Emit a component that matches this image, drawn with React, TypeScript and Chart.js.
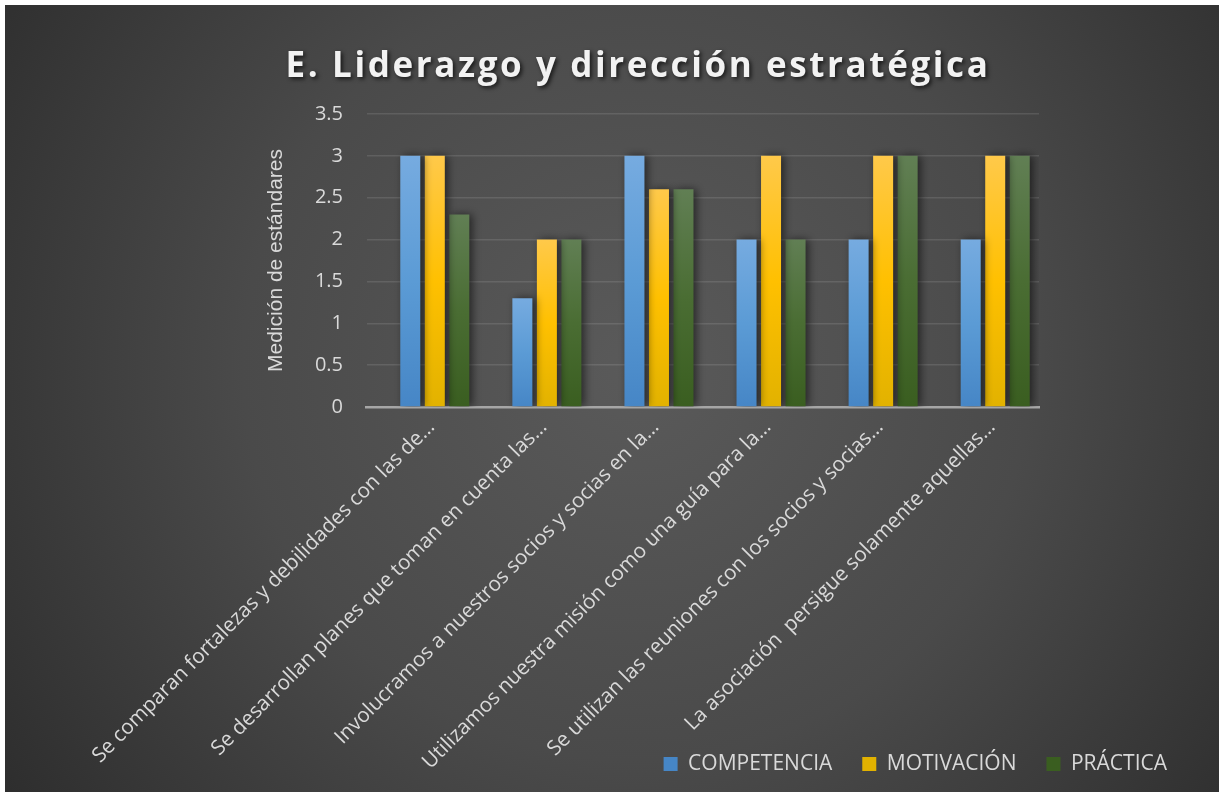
import React, { useEffect, useRef } from 'react';
import { Chart, registerables } from 'chart.js';

Chart.register(...registerables);

const TITLE = 'E. Liderazgo y dirección estratégica';
const Y_TITLE = 'Medición de estándares';

const CATEGORIES = [
  'Se comparan fortalezas y debilidades con las de…',
  'Se desarrollan planes que toman en cuenta las…',
  'Involucramos a nuestros socios y socias en la…',
  'Utilizamos nuestra misión como una guía para la…',
  'Se utilizan las reuniones con los socios y socias…',
  'La asociación  persigue solamente aquellas…',
];

const SERIES_NAMES = ['COMPETENCIA', 'MOTIVACIÓN', 'PRÁCTICA'];
// empty leading series (no values) present in the source chart's grouping
const EMPTY_SERIES: (number | null)[] = [null, null, null, null, null, null];
const COMPETENCIA = [3, 1.3, 3, 2, 2, 2];
const MOTIVACION = [3, 2, 2.6, 3, 3, 3];
const PRACTICA = [2.3, 2, 2.6, 2, 3, 3];

const Y_MIN = 0;
const Y_MAX = 3.5;
const Y_STEP = 0.5;

const BLUE = ['#76abe0', '#5b9bd5', '#4686c6'];
const GOLD = ['#ffc94a', '#ffc000', '#e2b200'];
const GREEN = ['#617f54', '#4a6d33', '#3a5e20'];

const W = 1214;
const H = 787;

function barFill(stops: string[]) {
  return (c: any) => {
    if (c.type !== 'data') return stops[1];
    const chart = c.chart;
    const y = chart.scales && chart.scales.y;
    if (!y || c.raw == null) return stops[1];
    const top = y.getPixelForValue(c.raw);
    const base = y.getPixelForValue(0);
    if (!isFinite(top) || !isFinite(base) || top === base) return stops[1];
    const g = chart.ctx.createLinearGradient(0, top, 0, base);
    g.addColorStop(0, stops[0]);
    g.addColorStop(0.5, stops[1]);
    g.addColorStop(1, stops[2]);
    return g;
  };
}

const decorPlugin = {
  id: 'decor',
  afterLayout(chart: any) {
    // let the rotated category labels run down past the legend row, as in the source
    const xs = chart.scales.x;
    if (xs) {
      xs.bottom = chart.height;
      xs.height = xs.bottom - xs.top;
    }
  },
  beforeDraw(chart: any) {
    const { ctx, width, height } = chart;
    ctx.save();
    const cx = width * 0.52;
    const cy = height * 0.46;
    const g = ctx.createRadialGradient(cx, cy, 0, cx, cy, width * 0.72);
    g.addColorStop(0, '#5a5a5a');
    g.addColorStop(0.45, '#4a4a4a');
    g.addColorStop(1, '#252525');
    ctx.fillStyle = g;
    ctx.fillRect(0, 0, width, height);
    ctx.restore();
  },
  beforeDatasetsDraw(chart: any) {
    const ctx = chart.ctx;
    ctx.save();
    ctx.shadowColor = 'rgba(0,0,0,0.55)';
    ctx.shadowBlur = 8;
    ctx.shadowOffsetX = 3;
    ctx.shadowOffsetY = 0;
  },
  afterDatasetsDraw(chart: any) {
    chart.ctx.restore();
  },
  afterDraw(chart: any) {
    const ctx = chart.ctx;
    ctx.save();
    ctx.font = "bold 35px 'Open Sans', sans-serif";
    (ctx as any).letterSpacing = '2.6px';
    ctx.textAlign = 'center';
    ctx.textBaseline = 'alphabetic';
    ctx.shadowColor = 'rgba(0,0,0,0.7)';
    ctx.shadowBlur = 4;
    ctx.shadowOffsetX = 2;
    ctx.shadowOffsetY = 2;
    ctx.fillStyle = '#f2f2f2';
    ctx.fillText(TITLE, 633, 72);
    ctx.restore();
  },
};

export default function App() {
  const ref = useRef<HTMLCanvasElement | null>(null);

  useEffect(() => {
    if (!ref.current) return;
    Chart.defaults.font.family = "'Open Sans', sans-serif";
    const chart = new Chart(ref.current, {
      type: 'bar',
      data: {
        labels: CATEGORIES,
        datasets: [
          { label: '', data: EMPTY_SERIES, backgroundColor: 'rgba(0,0,0,0)' },
          { label: SERIES_NAMES[0], data: COMPETENCIA, backgroundColor: barFill(BLUE) as any },
          { label: SERIES_NAMES[1], data: MOTIVACION, backgroundColor: barFill(GOLD) as any },
          { label: SERIES_NAMES[2], data: PRACTICA, backgroundColor: barFill(GREEN) as any },
        ],
      },
      options: {
        responsive: false,
        animation: false,
        events: [],
        datasets: {
          bar: { barPercentage: 0.816, categoryPercentage: 0.875 },
        },
        layout: { padding: { top: 109, left: 255, right: 22, bottom: 7.5 } },
        plugins: {
          title: { display: false },
          tooltip: { enabled: false },
          legend: {
            position: 'bottom',
            align: 'end',
            labels: {
              boxWidth: 14,
              boxHeight: 14,
              padding: 30,
              color: '#d9d9d9',
              font: { family: "'Open Sans', sans-serif", size: 21 },
              filter: (item: any) => item.text !== '',
            },
          },
        },
        scales: {
          x: {
            grid: { display: false },
            border: { display: true, color: '#a6a6a6', width: 2.5 },
            ticks: {
              color: '#d9d9d9',
              font: { family: "'Open Sans', sans-serif", size: 20.6 },
              autoSkip: false,
              maxRotation: 45,
              minRotation: 45,
              padding: 0,
              labelOffset: 9,
            },
            afterFit: (s: any) => { s.height = 316.5; },
          },
          y: {
            min: Y_MIN,
            max: Y_MAX,
            ticks: {
              stepSize: Y_STEP,
              color: '#d9d9d9',
              padding: 23.5,
              font: { family: "'Open Sans', sans-serif", size: 20 },
              callback: (v: any) => String(v),
            },
            grid: { color: 'rgba(255,255,255,0.11)', lineWidth: 1.5, drawTicks: false },
            border: { display: false },
            title: {
              display: true,
              text: Y_TITLE,
              color: '#d9d9d9',
              font: { family: "'Liberation Sans', Arial, sans-serif", size: 21 },
              padding: { top: 4, bottom: 4 },
            },
            afterFit: (s: any) => { s.width = 106.5; },
          },
          y2: {
            type: 'linear',
            position: 'right',
            display: true,
            grid: { display: false },
            border: { display: false },
            ticks: { display: false },
            afterFit: (s: any) => { s.width = 158; },
          },
        },
      },
      plugins: [decorPlugin],
    } as any);
    return () => chart.destroy();
  }, []);

  return (
    <div style={{ position: 'absolute', left: 5, top: 5, width: W, height: H }}>
      <canvas ref={ref} width={W} height={H} style={{ display: 'block' }} />
    </div>
  );
}
